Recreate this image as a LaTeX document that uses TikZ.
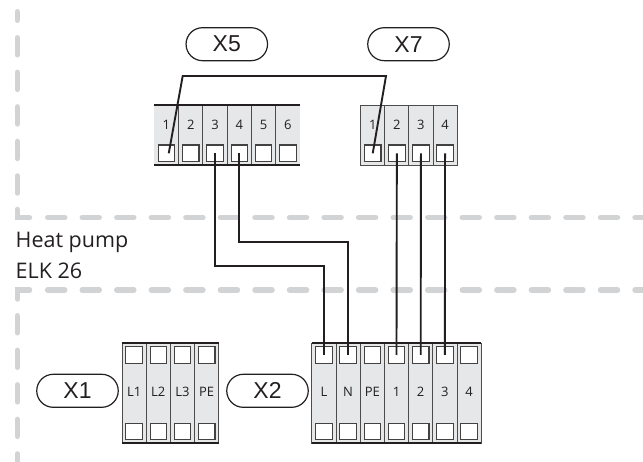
\documentclass[tikz,border=0pt]{standalone}
\usepackage{fontspec}
\usetikzlibrary{shapes.misc}
\setmainfont{Open Sans}
\newfontfamily\pillfont{Liberation Sans}

\definecolor{cellgray}{HTML}{E6E7E8}
\definecolor{dashgray}{HTML}{D1D3D4}
\definecolor{wirecol}{HTML}{231F20}

\tikzset{
	cell/.style={draw=black!70,line width=0.9pt,fill=cellgray,minimum width=24.2pt,minimum height=#1,inner sep=0pt,outer sep=0pt},
	clamp/.style={draw=wirecol!85,line width=1.1pt,fill=white,minimum width=16.5pt,minimum height=16.5pt,inner sep=0pt,outer sep=0pt},
	pill/.style={draw=wirecol,line width=1.2pt,rounded rectangle,minimum width=81.5pt,minimum height=33pt,inner sep=0pt,font=\pillfont\fontsize{23}{23}\selectfont,text=wirecol},
	tag/.style={font=\fontsize{13}{13}\selectfont,text=wirecol,inner sep=0pt},
	wire/.style={draw=wirecol,line width=1.9pt},
	border/.style={draw=wirecol,line width=1.6pt},
	zone/.style={draw=dashgray,line width=5.5pt,line cap=round,dash pattern=on 17pt off 17.55pt},
	title/.style={anchor=base west,inner sep=0pt,font=\fontsize{21.5}{21.5}\selectfont,text=wirecol}
}

\begin{document}
\begin{tikzpicture}[x=1pt,y=-1pt]
	\useasboundingbox (0,0) rectangle (643,462);

	% zone lines
	\draw[zone,dash phase=8.5pt] (17.3,11.75) -- (17.3,195) ;
	\draw[zone,solid] (17.3,209.5) -- (17.3,217.5) -- (29.5,217.5) ;
	\draw[zone] (47.7,217.5) -- (643,217.5) ;
	\draw[zone,solid] (17.3,299) -- (17.3,290) -- (29.5,290) ;
	\draw[zone] (47.7,290) -- (643,290) ;
	\draw[zone] (17.3,315.75) -- (17.3,462) ;

	\node[pill] (x5) at (226.8,44.2) {X5};
	\node[pill] (x7) at (408.5,44.2) {X7};
	\node[pill] (x1) at (77.5,390.8) {X1};
	\node[pill] (x2) at (267.5,390.8) {X2};

	% X5 block
	\foreach \i in {1,2,3,4,5,6} {
		\node[cell=60pt,draw=none] (xa\i) at ({154.3+(\i-0.5)*24.3},135) {};
		\node[tag] (ta\i) at ({154.3+(\i-0.5)*24.3},124.5) {\i};
		\node[clamp] (ca\i) at ({154.3+(\i-0.5)*24.3},153.3) {};
	}
	\foreach \i in {1,2,3,4,5}
		\draw[draw=black!70,line width=0.9pt] (xa\i.north east) -- (xa\i.south east) ;
	\draw[border] (xa1.north west) -- (xa6.north east) ;
	\draw[border] (xa1.south west) -- (xa6.south east) ;

	% X7 block
	\foreach \i in {1,2,3,4} {
		\node[cell=60pt] (xb\i) at ({360.7+(\i-0.5)*24.1},135) {};
		\node[tag] (tb\i) at ({360.7+(\i-0.5)*24.1},124.5) {\i};
		\node[clamp] (cb\i) at ({360.7+(\i-0.5)*24.1},153.3) {};
	}

	% X1 block
	\foreach \i/\lab in {1/L1,2/L2,3/L3,4/PE} {
		\node[cell=100pt] (xc\i) at ({122+(\i-0.5)*24.2},393) {};
		\node[tag] (tc\i) at ({122+(\i-0.5)*24.2},391.5) {\lab};
		\node[clamp] (cc\i) at ({122+(\i-0.5)*24.2},355) {};
		\node[clamp] (dc\i) at ({122+(\i-0.5)*24.2},431.5) {};
	}
	\draw[border] (xc1.north west) -- (xc4.north east) ;
	\draw[border] (xc1.south west) -- (xc4.south east) ;

	% X2 block
	\foreach \i/\lab in {1/L,2/N,3/PE,4/1,5/2,6/3,7/4} {
		\node[cell=100pt] (xd\i) at ({311.8+(\i-0.5)*24.2},393) {};
		\node[tag] (td\i) at ({311.8+(\i-0.5)*24.2},391.5) {\lab};
		\node[clamp] (cd\i) at ({311.8+(\i-0.5)*24.2},355) {};
		\node[clamp] (dd\i) at ({311.8+(\i-0.5)*24.2},431.5) {};
	}
	\draw[border] (xd1.north west) -- (xd7.north east) ;
	\draw[border] (xd1.south west) -- (xd7.south east) ;

	% wires
	\coordinate (jumpa) at (182.7,76) ;
	\coordinate (jumpb) at (386,76) ;
	\coordinate (enda) at ([xshift=2.3pt]ca1.center) ;
	\coordinate (bendc) at (ca3 |- 0,266) ;
	\coordinate (bendd) at (cd1 |- 0,266) ;
	\coordinate (bende) at (ca4 |- 0,241.7) ;
	\coordinate (bendf) at (cd2 |- 0,241.7) ;
	\draw[wire] (enda) -- (jumpa) -- (jumpb) -- (cb1.center) ;
	\draw[wire] (ca3.center) -- (bendc) -- (bendd) -- (cd1.center) ;
	\draw[wire] (ca4.center) -- (bende) -- (bendf) -- (cd2.center) ;
	\draw[wire] (cb2.center) -- (cd4.center) ;
	\draw[wire] (cb3.center) -- (cd5.center) ;
	\draw[wire] (cb4.center) -- (cd6.center) ;

	\node[title] (heat) at (15.5,248) {Heat pump};
	\node[title] (elk) at (15.5,279) {ELK 26};

\end{tikzpicture}
\end{document}
